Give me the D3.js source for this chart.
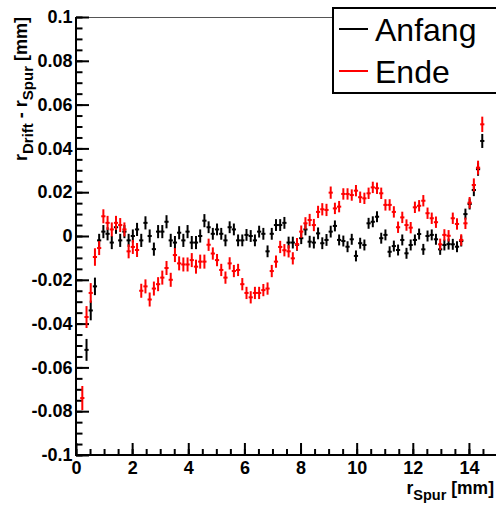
<!DOCTYPE html>
<html><head><meta charset="utf-8">
<script src="https://cdn.jsdelivr.net/npm/d3@7"></script>
<style>html,body{margin:0;padding:0;background:#fff;}svg{display:block;}</style>
</head><body>
<script>
// bin centres (r_Spur, mm)
const rSpur = [
0.225,0.375,0.525,0.675,0.825,0.975,1.125,1.275,1.425,1.575,
1.725,1.875,2.025,2.175,2.325,2.475,2.625,2.775,2.925,3.075,
3.225,3.375,3.525,3.675,3.825,3.975,4.125,4.275,4.425,4.575,
4.725,4.875,5.025,5.175,5.325,5.475,5.625,5.775,5.925,6.075,
6.225,6.375,6.525,6.675,6.825,6.975,7.125,7.275,7.425,7.575,
7.725,7.875,8.025,8.175,8.325,8.475,8.625,8.775,8.925,9.075,
9.225,9.375,9.525,9.675,9.825,9.975,10.125,10.275,10.425,10.575,
10.725,10.875,11.025,11.175,11.325,11.475,11.625,11.775,11.925,12.075,
12.225,12.375,12.525,12.675,12.825,12.975,13.125,13.275,13.425,13.575,
13.725,13.875,14.025,14.175,14.325,14.475];

const anfang = [
null,-0.052,-0.034,-0.023,-0.002,0.002,0.001,-0.003,0.004,-0.002,
0.002,-0.002,0.000,0.003,-0.002,0.006,0.000,-0.006,0.002,0.002,
0.0065,-0.002,-0.003,0.0015,-0.002,0.002,-0.003,-0.003,0.000,0.007,
0.004,0.001,0.003,0.001,-0.002,0.004,0.003,-0.002,-0.002,0.0005,
0.000,-0.002,0.002,0.001,-0.007,0.001,0.005,0.005,0.006,-0.003,
-0.003,-0.004,-0.001,0.003,-0.0026,-0.003,0.0012,-0.0033,-0.0018,0.002,
0.0046,-0.0018,-0.0023,-0.0049,-0.0015,-0.0091,-0.0033,-0.0041,0.0058,0.0065,
0.0088,-0.001,0.0005,-0.0072,-0.0046,-0.0064,-0.0018,-0.0079,-0.0041,-0.0018,
0.0009,-0.0061,0.0,0.0005,-0.0015,-0.0061,-0.0041,-0.0037,-0.0038,-0.0049,
-0.0023,0.010,0.0146,0.021,0.0305,0.0434];

const ende = [
-0.074,-0.037,-0.026,-0.0096,-0.0055,0.009,0.006,0.003,0.006,0.005,
0.003,-0.007,-0.005,-0.0064,-0.025,-0.023,-0.029,-0.024,-0.022,-0.019,
-0.0146,-0.020,-0.0087,-0.0125,-0.013,-0.013,-0.011,-0.014,-0.0117,-0.0117,
-0.004,-0.008,-0.011,-0.0155,-0.019,-0.0125,-0.016,-0.0155,-0.022,-0.026,
-0.028,-0.026,-0.026,-0.0247,-0.024,-0.016,-0.0117,-0.005,-0.0065,-0.007,
-0.0102,-0.0037,0.002,0.0058,0.0073,0.005,0.011,0.0122,0.0119,0.0198,
0.0126,0.0134,0.0192,0.0192,0.0187,0.0207,0.0177,0.0172,0.0195,0.0222,
0.0218,0.0195,0.0142,0.0142,0.011,0.004,0.0085,0.005,0.0038,0.0131,
0.0138,0.0161,0.0104,0.0081,0.0063,-0.0038,0.0005,0.0001,0.0081,0.0055,
-0.0018,0.0058,0.0152,0.0233,0.0312,0.051];

const anfangErr = [
null,0.005,0.0045,0.004,0.003,0.003,0.003,0.003,0.003,0.003,
0.003,0.003,0.003,0.003,0.003,0.003,0.003,0.003,0.003,0.003,
0.003,0.003,0.003,0.003,0.003,0.003,0.003,0.003,0.003,0.003,
0.0027,0.0027,0.0027,0.0027,0.0027,0.0027,0.0027,0.0027,0.0027,0.0027,
0.0027,0.0027,0.0027,0.0027,0.0027,0.0027,0.0027,0.0027,0.0027,0.0027,
0.0027,0.0027,0.0027,0.0027,0.0027,0.0027,0.0027,0.0027,0.0027,0.0027,
0.0025,0.0025,0.0025,0.0025,0.0025,0.0025,0.0025,0.0025,0.0025,0.0025,
0.0025,0.0025,0.0025,0.0025,0.0025,0.0025,0.0025,0.0025,0.0025,0.0025,
0.0025,0.0025,0.0025,0.0025,0.0025,0.0025,0.0025,0.0025,0.0025,0.0025,
0.0025,0.0025,0.0025,0.0028,0.003,0.0032];

const endeErr = [
0.0055,0.005,0.0045,0.004,0.0032,0.0032,0.0032,0.0032,0.0032,0.0032,
0.0032,0.0032,0.0032,0.0032,0.0032,0.0032,0.0032,0.0032,0.0032,0.0032,
0.0032,0.0032,0.0032,0.0032,0.0032,0.0032,0.0032,0.0032,0.0032,0.0032,
0.0028,0.0028,0.0028,0.0028,0.0028,0.0028,0.0028,0.0028,0.0028,0.0028,
0.0028,0.0028,0.0028,0.0028,0.0028,0.0028,0.0028,0.0028,0.0028,0.0028,
0.0028,0.0028,0.0028,0.0028,0.0028,0.0028,0.0028,0.0028,0.0028,0.0028,
0.0026,0.0026,0.0026,0.0026,0.0026,0.0026,0.0026,0.0026,0.0026,0.0026,
0.0026,0.0026,0.0026,0.0026,0.0026,0.0026,0.0026,0.0026,0.0026,0.0026,
0.0026,0.0026,0.0026,0.0026,0.0026,0.0026,0.0026,0.0026,0.0026,0.0026,
0.0026,0.0026,0.0026,0.003,0.0032,0.0035];

const binHalfWidth = 0.075;
const xTicks = [0,2,4,6,8,10,12,14];
const xTickLabels = ["0","2","4","6","8","10","12","14"];
const yTicks = [-0.1,-0.08,-0.06,-0.04,-0.02,0,0.02,0.04,0.06,0.08,0.1];
const yTickLabels = ["-0.1","-0.08","-0.06","-0.04","-0.02","0","0.02","0.04","0.06","0.08","0.1"];
const seriesNames = ["Anfang","Ende"];
const seriesColors = ["#000000","#ff0000"];

const W = 496, H = 506;
const L = 76, R = 497, T = 17, B = 455;
const FONT = "'Liberation Sans', Arial, Helvetica, sans-serif";

const svg = d3.select("body").append("svg").attr("width", W).attr("height", H)
  .style("font-family", FONT);
svg.append("rect").attr("width", W).attr("height", H).attr("fill", "#fff");

const x = d3.scaleLinear().domain([0, 15]).range([L, R]);
const y = d3.scaleLinear().domain([-0.1, 0.1]).range([B, T]);

// frame top
svg.append("line").attr("x1", L).attr("x2", W).attr("y1", T + 0.5).attr("y2", T + 0.5)
  .attr("stroke", "#555").attr("stroke-width", 1);

// minor ticks
const yMinor = d3.range(-0.1, 0.1001, 0.005);
const xMinor = d3.range(0, 15.001, 0.5);
svg.append("g").attr("transform", `translate(${L},0)`)
  .call(d3.axisLeft(y).tickValues(yMinor).tickSize(-6.5).tickFormat("").tickSizeOuter(0))
  .call(g => g.select(".domain").remove())
  .selectAll("line").attr("stroke", "#000").attr("stroke-width", 2);
svg.append("g").attr("transform", `translate(0,${B})`)
  .call(d3.axisBottom(x).tickValues(xMinor).tickSize(-6).tickFormat("").tickSizeOuter(0))
  .call(g => g.select(".domain").remove())
  .selectAll("line").attr("stroke", "#000").attr("stroke-width", 2);

// major ticks + labels
const yAxis = svg.append("g").attr("transform", `translate(${L},0)`)
  .call(d3.axisLeft(y).tickValues(yTicks).tickSize(-13).tickPadding(3.5)
    .tickFormat((d, i) => yTickLabels[i]).tickSizeOuter(0));
yAxis.select(".domain").remove();
yAxis.selectAll("line").attr("stroke", "#000").attr("stroke-width", 2);
yAxis.selectAll("text").attr("font-size", 18).attr("font-weight", "bold")
  .attr("font-family", FONT).attr("fill", "#000");

const xAxis = svg.append("g").attr("transform", `translate(0,${B})`)
  .call(d3.axisBottom(x).tickValues(xTicks).tickSize(-12).tickPadding(6)
    .tickFormat((d, i) => xTickLabels[i]).tickSizeOuter(0));
xAxis.select(".domain").remove();
xAxis.selectAll("line").attr("stroke", "#000").attr("stroke-width", 2);
xAxis.selectAll("text").attr("font-size", 18).attr("font-weight", "bold")
  .attr("font-family", FONT).attr("fill", "#000");

// axis lines
svg.append("line").attr("x1", L).attr("x2", L).attr("y1", T).attr("y2", B + 1)
  .attr("stroke", "#000").attr("stroke-width", 2);
svg.append("line").attr("x1", L - 1).attr("x2", W).attr("y1", B).attr("y2", B)
  .attr("stroke", "#000").attr("stroke-width", 2);

// data
function drawSeries(vals, errs, color) {
  const pts = rSpur.map((r, i) => ({r, v: vals[i], e: errs[i]}))
    .filter(d => d.v !== null);
  const g = svg.append("g").attr("stroke", color).attr("stroke-width", 2);
  g.selectAll("line.v").data(pts).join("line").attr("class", "v")
    .attr("x1", d => x(d.r)).attr("x2", d => x(d.r))
    .attr("y1", d => y(d.v - d.e)).attr("y2", d => y(d.v + d.e));
  g.selectAll("line.h").data(pts).join("line").attr("class", "h")
    .attr("x1", d => x(d.r - binHalfWidth)).attr("x2", d => x(d.r + binHalfWidth))
    .attr("y1", d => y(d.v)).attr("y2", d => y(d.v));
}
drawSeries(anfang, anfangErr, seriesColors[0]);
drawSeries(ende, endeErr, seriesColors[1]);

// axis titles
const xt = svg.append("text").attr("x", 494).attr("y", 494).attr("text-anchor", "end")
  .attr("font-size", 17.5).attr("font-weight", "bold").attr("fill", "#000");
xt.append("tspan").text("r");
xt.append("tspan").attr("font-size", 14.5).attr("dy", 6).text("Spur");
xt.append("tspan").attr("dy", -6).text(" [mm]");

const yt = svg.append("text").attr("transform", "translate(27,17) rotate(-90)")
  .attr("text-anchor", "end").attr("font-size", 18).attr("font-weight", "bold").attr("fill", "#000");
yt.append("tspan").text("r");
yt.append("tspan").attr("font-size", 15).attr("dy", 6).text("Drift");
yt.append("tspan").attr("dy", -6).text(" - r");
yt.append("tspan").attr("font-size", 15).attr("dy", 6).text("Spur");
yt.append("tspan").attr("dy", -6).text(" [mm]");

// legend
const lg = svg.append("g");
lg.append("rect").attr("x", 333).attr("y", 8).attr("width", 180).attr("height", 85)
  .attr("fill", "#fff").attr("stroke", "#000").attr("stroke-width", 2);
seriesNames.forEach((name, i) => {
  const cy = 29 + i * 42;
  lg.append("line").attr("x1", 339).attr("x2", 368).attr("y1", cy).attr("y2", cy)
    .attr("stroke", seriesColors[i]).attr("stroke-width", 2);
  lg.append("text").attr("x", 375).attr("y", cy + 11.5).attr("font-size", 32)
    .attr("fill", "#000").text(name);
});
</script>
</body></html>
